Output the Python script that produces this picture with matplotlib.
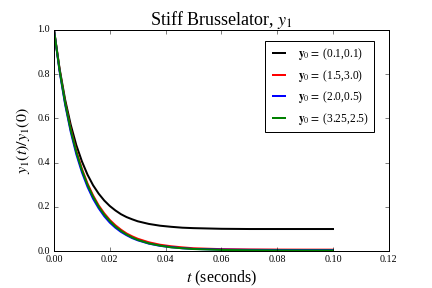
import matplotlib
matplotlib.use("Agg")
import matplotlib.pyplot as plt

t = [0.0, 0.002, 0.004, 0.006, 0.008, 0.010, 0.012, 0.014, 0.016, 0.018, 0.020,
     0.022, 0.024, 0.026, 0.028, 0.030, 0.034, 0.038, 0.042, 0.046, 0.050,
     0.060, 0.070, 0.080, 0.090, 0.100]

y_a = [1.0, 0.825, 0.684, 0.571, 0.479, 0.406, 0.346, 0.298, 0.260, 0.229, 0.204,
       0.184, 0.167, 0.154, 0.144, 0.135, 0.123, 0.115, 0.110, 0.106, 0.104,
       0.101, 0.100, 0.100, 0.100, 0.100]
y_b = [1.0, 0.820, 0.672, 0.552, 0.453, 0.372, 0.306, 0.252, 0.207, 0.171, 0.141,
       0.117, 0.097, 0.080, 0.067, 0.056, 0.040, 0.029, 0.022, 0.017, 0.013,
       0.009, 0.0076, 0.0070, 0.0068, 0.0067]
y_c = [1.0, 0.813, 0.662, 0.539, 0.438, 0.357, 0.291, 0.237, 0.194, 0.158, 0.129,
       0.106, 0.087, 0.072, 0.059, 0.049, 0.034, 0.024, 0.018, 0.013, 0.010,
       0.007, 0.0057, 0.0052, 0.0050, 0.0050]
y_d = [1.0, 0.818, 0.669, 0.547, 0.448, 0.366, 0.300, 0.246, 0.201, 0.165, 0.136,
       0.111, 0.092, 0.075, 0.062, 0.051, 0.035, 0.025, 0.017, 0.013, 0.0095,
       0.0054, 0.0040, 0.0034, 0.0032, 0.0031]

labels = [r"$\mathbf{y}_0 =$ (0.1,0.1)", r"$\mathbf{y}_0 =$ (1.5,3.0)",
          r"$\mathbf{y}_0 =$ (2.0,0.5)", r"$\mathbf{y}_0 =$ (3.25,2.5)"]
colors = ["k", "r", "b", "g"]

plt.style.use("classic")
plt.rcParams["font.family"] = ["Liberation Serif", "DejaVu Serif"]
plt.rcParams["mathtext.fontset"] = "stix"
plt.rcParams["figure.facecolor"] = "white"

fig = plt.figure(figsize=(6, 4), dpi=72)
ax = fig.add_subplot(111)
fig.subplots_adjust(left=0.125, right=0.9, top=0.896, bottom=0.128)

for ys, c, lab in zip([y_a, y_b, y_c, y_d], colors, labels):
    ax.plot(t, ys, color=c, lw=2, label=lab)

ax.set_xlim(0, 0.12)
ax.set_ylim(0, 1.0)
ax.set_xticks([0.0, 0.02, 0.04, 0.06, 0.08, 0.10, 0.12])
ax.set_xticklabels(["0.00", "0.02", "0.04", "0.06", "0.08", "0.10", "0.12"])
ax.set_yticks([0.0, 0.2, 0.4, 0.6, 0.8, 1.0])
ax.set_yticklabels(["0.0", "0.2", "0.4", "0.6", "0.8", "1.0"])
ax.tick_params(labelsize=10)

ax.set_title(r"Stiff Brusselator, $y_1$", fontsize=18)
ax.set_xlabel(r"$t$ (seconds)", fontsize=16)
ax.set_ylabel(r"$y_1(t)/y_1(0)$", fontsize=16)
ax.legend(loc="upper right", bbox_to_anchor=(0.955, 0.949), borderaxespad=0,
          fontsize=11.5, handlelength=1.7)

fig.savefig("out.png", dpi=72)
